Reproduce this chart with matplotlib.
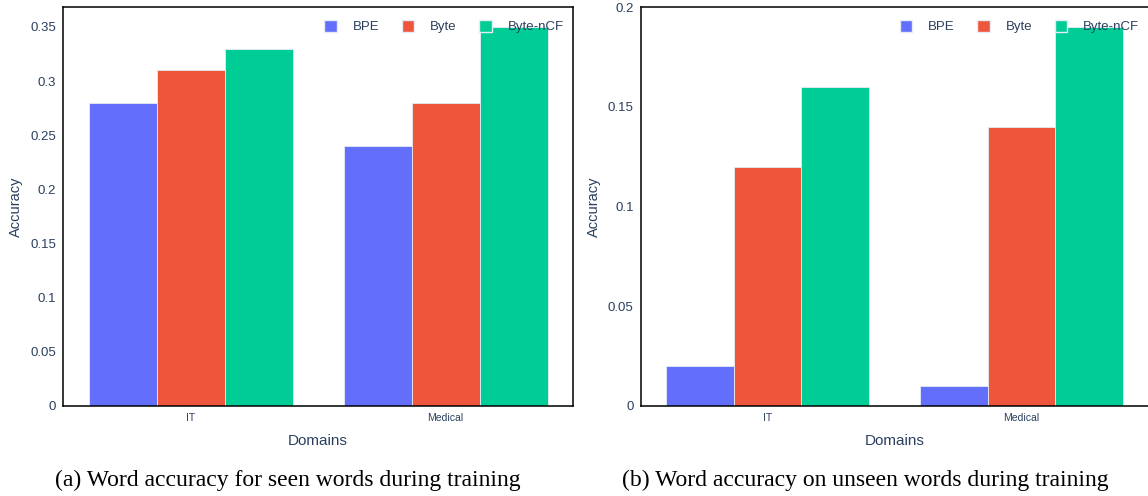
import matplotlib
matplotlib.use("Agg")
import matplotlib.pyplot as plt
from matplotlib.patches import Patch
from matplotlib.ticker import FuncFormatter, MultipleLocator
import numpy as np

# data
domains = ["IT", "Medical"]
methods = ["BPE", "Byte", "Byte-nCF"]
seen_acc = {"BPE": [0.28, 0.24], "Byte": [0.31, 0.28], "Byte-nCF": [0.33, 0.35]}
unseen_acc = {"BPE": [0.02, 0.01], "Byte": [0.12, 0.14], "Byte-nCF": [0.16, 0.19]}
captions = ["(a) Word accuracy for seen words during training",
            "(b) Word accuracy on unseen words during training"]

colors = {"BPE": "#636EFA", "Byte": "#EF553B", "Byte-nCF": "#00CC96"}
txt = "#2a3f5f"
sans = "Liberation Sans"
plt.rcParams["font.family"] = sans

fig = plt.figure(figsize=(11.48, 4.96), dpi=100)
ax1 = fig.add_axes([63 / 1148, 90 / 496, 510 / 1148, 399 / 496])
ax2 = fig.add_axes([640.5 / 1148, 90 / 496, 508 / 1148, 399 / 496])


def draw(ax, data, ymax, right_spine=True):
    x = np.arange(len(domains))
    w = 0.8 / len(methods)
    for i, m in enumerate(methods):
        ax.bar(x + (i - 1) * w, data[m], w, color=colors[m],
               edgecolor="#E5ECF6", linewidth=0.6, label=m, zorder=2)
    ax.set_xlim(-0.5, len(domains) - 0.5)
    ax.set_ylim(0, ymax)
    ax.set_xticks(x)
    ax.set_xticklabels(domains, fontsize=7.5, color=txt)
    ax.yaxis.set_major_locator(MultipleLocator(0.05))
    ax.yaxis.set_major_formatter(FuncFormatter(lambda v, p: "%g" % round(v, 4)))
    ax.tick_params(axis="y", length=0, pad=5, labelsize=9.5, labelcolor=txt)
    ax.tick_params(axis="x", length=0, pad=5)
    for s in ax.spines.values():
        s.set_color("black")
        s.set_linewidth(1.1)
    if not right_spine:
        ax.spines["right"].set_visible(False)
    ax.set_ylabel("Accuracy", fontsize=10.5, color=txt, labelpad=5)
    ax.set_xlabel("Domains", fontsize=11, color=txt, labelpad=8)
    handles = [Patch(facecolor=colors[m], edgecolor="#E5ECF6", label=m) for m in methods]
    leg = ax.legend(handles=handles, ncol=3, loc="upper right", frameon=False,
                    bbox_to_anchor=(1.0, 0.99), fontsize=9.5, handlelength=0.95,
                    handleheight=0.95, handletextpad=1.2, columnspacing=1.7,
                    borderaxespad=0.3)
    for t in leg.get_texts():
        t.set_color(txt)
    leg.set_zorder(5)


draw(ax1, seen_acc, 0.35 * 1.0526)
draw(ax2, unseen_acc, 0.2001, right_spine=False)

fig.text(288 / 1148, 1 - 480 / 496, captions[0], ha="center", va="center",
         fontsize=17, family="Liberation Serif", color="black")
fig.text(865 / 1148, 1 - 480 / 496, captions[1], ha="center", va="center",
         fontsize=17, family="Liberation Serif", color="black")

fig.savefig("out.png", dpi=100)
